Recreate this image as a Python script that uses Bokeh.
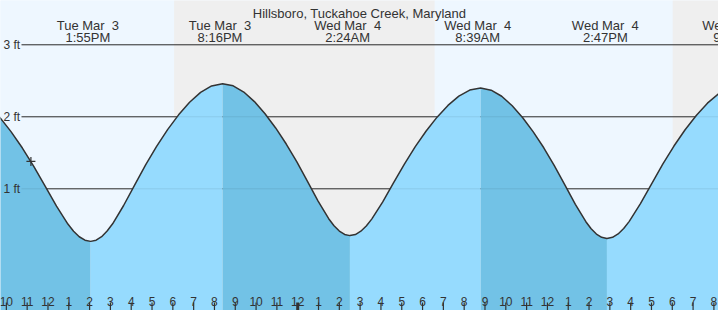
from bokeh.plotting import figure
from bokeh.models import Range1d
from bokeh.core.properties import value
from bokeh.embed import file_html
from bokeh.resources import INLINE

# ---------------- data (hours from midnight Tue Mar 3, feet) ----------------
title = "Hillsboro, Tuckahoe Creek, Maryland"

fall0_t = [8.583, 9.130, 9.677, 10.223, 10.770, 11.317, 11.863, 12.410, 12.957, 13.230, 13.503, 13.777, 14.05]
fall0_h = [2.301, 2.166, 1.995, 1.794, 1.566, 1.312, 1.037, 0.759, 0.510, 0.410, 0.334, 0.286, 0.27]

rise1_t = [14.05, 14.314, 14.578, 14.842, 15.107, 15.635, 16.163, 16.692, 17.22, 17.748, 18.277, 18.805, 19.333, 19.862, 20.39]
rise1_h = [0.27, 0.287, 0.335, 0.413, 0.514, 0.768, 1.052, 1.331, 1.590, 1.822, 2.027, 2.202, 2.339, 2.429, 2.46]

fall2_t = [20.39, 20.90, 21.41, 21.92, 22.43, 22.94, 23.45, 23.96, 24.47, 24.98, 25.49, 25.745, 26.00, 26.255, 26.51]
fall2_h = [2.46, 2.430, 2.344, 2.211, 2.043, 1.845, 1.622, 1.373, 1.103, 0.830, 0.585, 0.487, 0.413, 0.366, 0.35]

rise3_t = [26.51, 26.772, 27.033, 27.295, 27.557, 28.08, 28.603, 29.127, 29.65, 30.173, 30.697, 31.22, 31.743, 32.267, 32.79]
rise3_h = [0.35, 0.365, 0.411, 0.483, 0.579, 0.816, 1.082, 1.344, 1.586, 1.803, 1.995, 2.158, 2.287, 2.371, 2.40]

fall4_t = [32.79, 33.296, 33.802, 34.308, 34.813, 35.319, 35.825, 36.331, 36.837, 37.343, 37.848, 38.101, 38.354, 38.607, 38.86]
fall4_h = [2.40, 2.370, 2.285, 2.153, 1.987, 1.791, 1.570, 1.323, 1.056, 0.785, 0.543, 0.446, 0.372, 0.326, 0.31]

rise5_t = [38.86, 39.128, 39.397, 39.665, 39.933, 40.47, 41.007, 41.543, 42.08, 42.617, 43.153, 43.69, 44.227, 44.763, 45.30]
rise5_h = [0.31, 0.326, 0.373, 0.449, 0.548, 0.794, 1.070, 1.342, 1.594, 1.820, 2.019, 2.189, 2.322, 2.410, 2.44]

ext_hours = [13.917, 20.267, 26.40, 32.65, 38.783, 45.05]
ext_days = ["Tue Mar \u00a03", "Tue Mar \u00a03", "Wed Mar \u00a04", "Wed Mar \u00a04", "Wed Mar \u00a04", "Wed Mar \u00a04"]
ext_times = ["1:55PM", "8:16PM", "2:24AM", "8:39AM", "2:47PM", "9:03PM"]

day_start = [6.60, 30.58]
day_end = [18.06, 42.02]
night_start = [18.06, 42.02]
night_end = [30.58, 54.60]

levels = [1, 2, 3]
level_labels = ["1 ft", "2 ft", "3 ft"]

tick_hours = list(range(10, 45))
tick_labels = ["10", "11", "12", "1", "2", "3", "4", "5", "6", "7", "8", "9", "10", "11",
               "12", "1", "2", "3", "4", "5", "6", "7", "8", "9", "10", "11",
               "12", "1", "2", "3", "4", "5", "6", "7", "8"]

now_hour = [11.18]
now_ft = [1.38]

# ---------------- layout ----------------
W, H = 718, 310
PXH = 20.81                       # pixels per hour
X0 = 24 - 297.2 / PXH
X1 = X0 + W / PXH
Y0, Y1 = -0.690, 3.615


def fy(py):
    return Y1 - py * (Y1 - Y0) / H


def fx(px):
    return X0 + px / PXH


FONT = value("Liberation Sans")
INK = "#333333"
LIGHT = "#96dbfe"
DARK = "#72c2e6"

p = figure(width=W, height=H, x_range=Range1d(X0, X1), y_range=Range1d(Y0, Y1),
           x_axis_type=None, y_axis_type=None, output_backend="svg",
           toolbar_location=None, min_border=0)
p.xgrid.visible = False
p.ygrid.visible = False
p.outline_line_color = None
p.background_fill_color = "#eef7ff"
p.border_fill_color = "#eef7ff"

# day / night bands
p.quad(left=day_start, right=day_end, bottom=Y0 - 1, top=Y1 + 1,
       fill_color="#eef7ff", line_color=None)
p.quad(left=night_start, right=night_end, bottom=Y0 - 1, top=Y1 + 1,
       fill_color="#efefef", line_color=None)

# level lines (under the water)
xl = fx(21)
p.segment(x0=[xl] * len(levels), x1=[X1 + 1] * len(levels), y0=levels, y1=levels,
          line_color=INK, line_width=1)

# water fill, falling (dark) and rising (light)
segs = [(fall0_t, fall0_h, DARK), (rise1_t, rise1_h, LIGHT), (fall2_t, fall2_h, DARK),
        (rise3_t, rise3_h, LIGHT), (fall4_t, fall4_h, DARK), (rise5_t, rise5_h, LIGHT)]
for t, h, c in segs:
    p.varea(x=t, y1=[Y0 - 1] * len(t), y2=h, fill_color=c)

# faint level lines over the water
p.segment(x0=[xl] * len(levels), x1=[X1 + 1] * len(levels), y0=levels, y1=levels,
          line_color="#000000", line_alpha=0.08, line_width=1)

# tide curve
all_t, all_h = [], []
for i, (t, h, c) in enumerate(segs):
    if i == 0:
        all_t += t
        all_h += h
    else:
        all_t += t[1:]
        all_h += h[1:]
p.line(all_t, all_h, line_color=INK, line_width=1.5, line_join="round")

# current-time marker
p.scatter(now_hour, now_ft, marker="cross", size=9, line_color=INK, line_width=1.2)

# level labels
p.text(x=[fx(3)] * len(levels), y=levels, text=level_labels, text_align="left",
       text_baseline="middle", text_font=FONT, text_font_size="12px", text_color=INK)

# hour ticks and labels
widths = [3 if (hh % 24 == 0) else 1.2 for hh in tick_hours]
p.segment(x0=tick_hours, x1=tick_hours, y0=[fy(302)] * len(tick_hours),
          y1=[fy(312)] * len(tick_hours), line_color=INK, line_width=widths)
p.text(x=tick_hours, y=[fy(300.5)] * len(tick_hours), text=tick_labels,
       text_align="center", text_baseline="alphabetic", text_font=FONT,
       text_font_size="12px", text_color=INK)

# high / low labels
p.text(x=ext_hours, y=[fy(25.3)] * len(ext_hours), text=ext_days, text_align="center",
       text_baseline="alphabetic", text_font=FONT, text_font_size="13px", text_color=INK)
p.text(x=ext_hours, y=[fy(36.8)] * len(ext_hours), text=ext_times, text_align="center",
       text_baseline="alphabetic", text_font=FONT, text_font_size="13px", text_color=INK)

# title
p.text(x=[(X0 + X1) / 2], y=[fy(12.5)], text=[title], text_align="center",
       text_baseline="alphabetic", text_font=FONT, text_font_size="13px", text_color=INK)

open("out.html", "w").write(file_html(p, INLINE))
